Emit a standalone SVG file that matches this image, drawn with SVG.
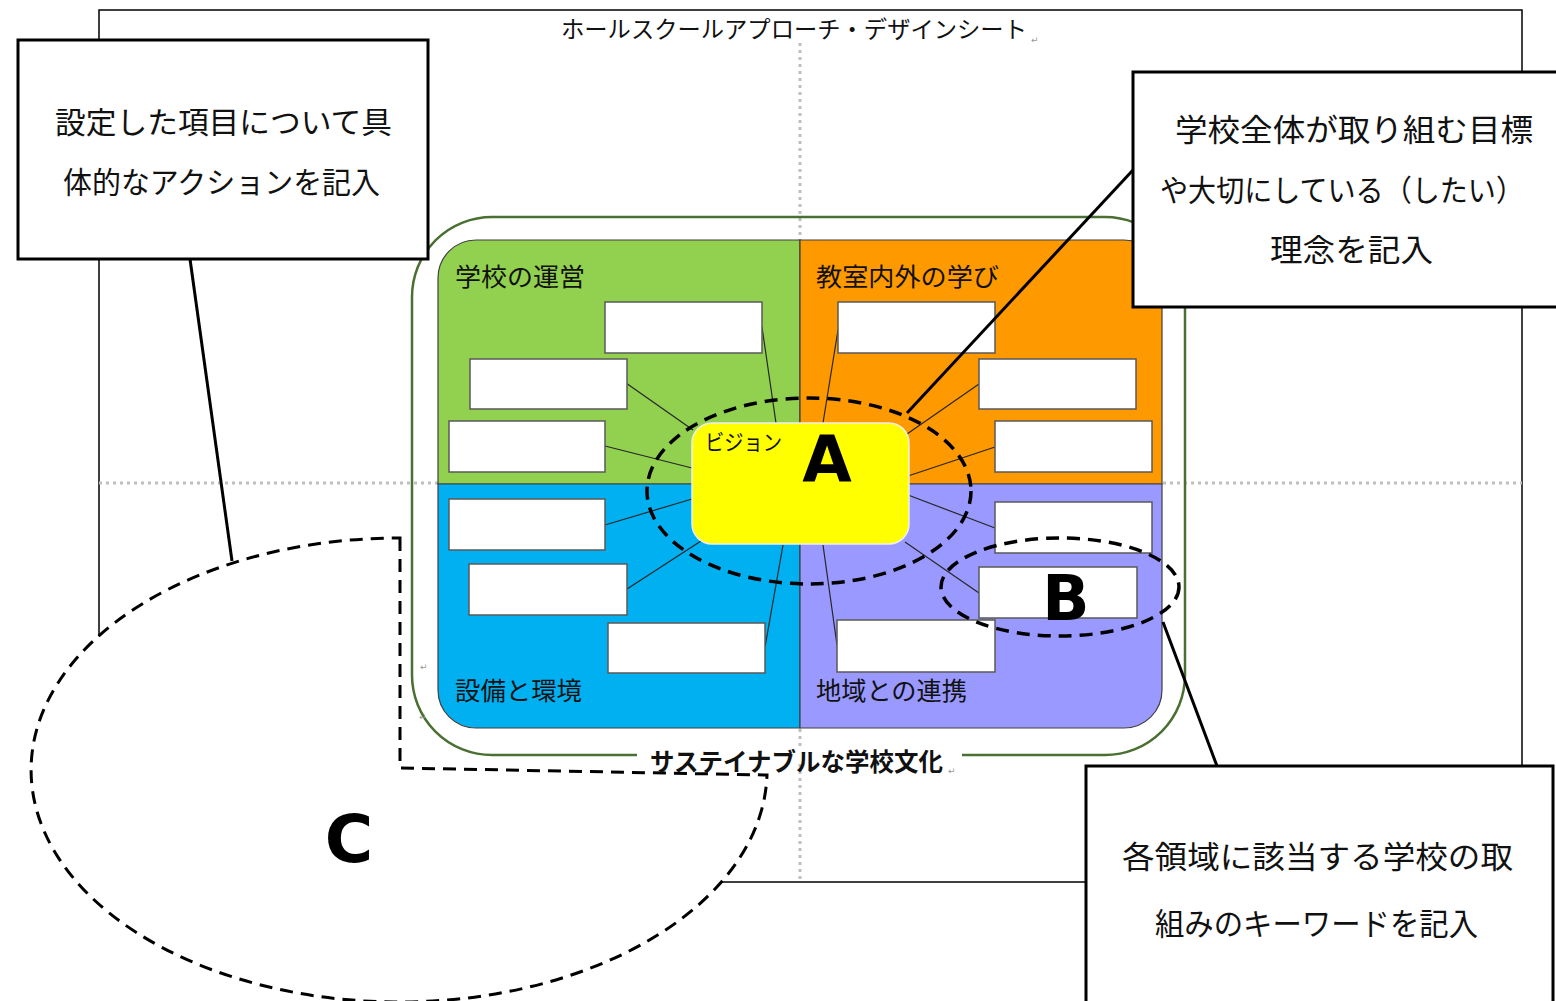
<svg xmlns="http://www.w3.org/2000/svg" width="1556" height="1001" viewBox="0 0 1556 1001">
<style>
  .jp { font-family: "Noto Sans CJK JP", "Noto Sans", sans-serif; fill: #111; }
  .big { font-family: "DejaVu Sans", "Liberation Sans", sans-serif; font-weight: bold; fill: #000; text-anchor: middle; }
  .dot { stroke: #bfbfbf; stroke-width: 3; stroke-dasharray: 3 4; fill: none; }
  .kbox { fill: #fff; stroke: #595959; stroke-width: 1.5; }
  .conn { stroke: #262626; stroke-width: 1.2; fill: none; }
  .call { fill: #fff; stroke: #000; stroke-width: 3; }
  .cline { stroke: #000; stroke-width: 3; fill: none; }
  .dash { fill: none; stroke: #000; stroke-width: 3.5; stroke-dasharray: 13 8; }
  .ret { font-family: "DejaVu Sans", sans-serif; font-size: 9px; fill: #999; }
</style>

<!-- sheet frame -->
<g id="frame">
  <rect x="99" y="10" width="1423" height="872" fill="#fff" stroke="#000" stroke-width="1.5"/>
  <text class="jp" x="561" y="38" font-size="23.3">ホールスクールアプローチ・デザインシート</text>
  <text class="ret" x="1031" y="43">↵</text>
  <line class="dot" x1="800" y1="43" x2="800" y2="880"/>
  <line class="dot" x1="99" y1="483" x2="1522" y2="483"/>
</g>

<!-- sustainable school culture outline -->
<g id="culture">
  <rect x="412" y="217" width="773" height="538" rx="80" ry="80" fill="none" stroke="#4a7031" stroke-width="2.5"/>
  <rect x="637" y="748" width="325" height="12" fill="#fff"/>
  <text class="ret" x="420" y="670">↵</text>
  <text class="ret" x="419" y="720" font-size="7">↵</text>
</g>

<!-- quadrants -->
<g id="q-management">
  <path d="M438,484 V278 A38,38 0 0 1 476,240 H800 V484 Z" fill="#92d050" stroke="#404040" stroke-width="1.2"/>
  <text class="jp" x="455" y="286" font-size="25" textLength="130" lengthAdjust="spacingAndGlyphs">学校の運営</text>
</g>
<g id="q-learning">
  <path d="M800,240 H1124 A38,38 0 0 1 1162,278 V484 H800 Z" fill="#ff9900" stroke="#404040" stroke-width="1.2"/>
  <text class="jp" x="816" y="286" font-size="25" textLength="183" lengthAdjust="spacingAndGlyphs">教室内外の学び</text>
</g>
<g id="q-environment">
  <path d="M438,484 H800 V728 H476 A38,38 0 0 1 438,690 Z" fill="#00b0f0" stroke="#404040" stroke-width="1.2"/>
  <text class="jp" x="455" y="700" font-size="25" textLength="127" lengthAdjust="spacingAndGlyphs">設備と環境</text>
</g>
<g id="q-community">
  <path d="M800,484 H1162 V690 A38,38 0 0 1 1124,728 H800 Z" fill="#9999ff" stroke="#404040" stroke-width="1.2"/>
  <text class="jp" x="816" y="700" font-size="25" textLength="151" lengthAdjust="spacingAndGlyphs">地域との連携</text>
</g>

<!-- connectors -->
<g id="connectors">
  <line class="conn" x1="762" y1="327" x2="776" y2="423"/>
  <line class="conn" x1="626" y1="383" x2="693" y2="430"/>
  <line class="conn" x1="605" y1="446" x2="692" y2="468"/>
  <line class="conn" x1="838" y1="330" x2="823" y2="423"/>
  <line class="conn" x1="979" y1="384" x2="907" y2="434"/>
  <line class="conn" x1="995" y1="447" x2="908" y2="476"/>
  <line class="conn" x1="605" y1="525" x2="692" y2="499"/>
  <line class="conn" x1="627" y1="589" x2="701" y2="541"/>
  <line class="conn" x1="765" y1="647" x2="783" y2="545"/>
  <line class="conn" x1="995" y1="528" x2="908" y2="495"/>
  <line class="conn" x1="979" y1="593" x2="905" y2="542"/>
  <line class="conn" x1="837" y1="645" x2="823" y2="545"/>
</g>

<!-- keyword boxes -->
<g id="kw-tl1"><rect class="kbox" x="605" y="302" width="157" height="51"/></g>
<g id="kw-tl2"><rect class="kbox" x="470" y="359" width="157" height="50"/></g>
<g id="kw-tl3"><rect class="kbox" x="449" y="421" width="156" height="51"/></g>
<g id="kw-tr1"><rect class="kbox" x="838" y="302" width="157" height="51"/></g>
<g id="kw-tr2"><rect class="kbox" x="979" y="359" width="157" height="50"/></g>
<g id="kw-tr3"><rect class="kbox" x="995" y="421" width="157" height="51"/></g>
<g id="kw-bl1"><rect class="kbox" x="449" y="499" width="156" height="51"/></g>
<g id="kw-bl2"><rect class="kbox" x="469" y="564" width="158" height="51"/></g>
<g id="kw-bl3"><rect class="kbox" x="608" y="623" width="157" height="50"/></g>
<g id="kw-br1"><rect class="kbox" x="995" y="502" width="157" height="51"/></g>
<g id="kw-br2"><rect class="kbox" x="979" y="567" width="158" height="51"/></g>
<g id="kw-br3"><rect class="kbox" x="837" y="620" width="158" height="52"/></g>

<!-- vision -->
<g id="vision">
  <rect x="692" y="423" width="217" height="121" rx="20" ry="20" fill="#ffff00" stroke="#eeeeee" stroke-width="1.5"/>
  <text class="jp" x="705" y="450" font-size="22" textLength="77" lengthAdjust="spacingAndGlyphs">ビジョン</text>
  <text class="big" x="827" y="482" font-size="64">A</text>
</g>

<!-- ellipse A -->
<g id="area-a">
  <ellipse class="dash" cx="809" cy="491" rx="162" ry="93"/>
</g>

<!-- ellipse B -->
<g id="area-b">
  <ellipse class="dash" cx="1060" cy="587" rx="119" ry="49" stroke-width="3"/>
  <text class="big" x="1066" y="620" font-size="62">B</text>
</g>

<!-- area C -->
<g id="area-c">
  <path d="M400,538 L400,768 L767,775 A368,232 0 1 1 400,538 Z" fill="#fff" stroke="#000" stroke-width="3" stroke-dasharray="13 8"/>
  <text class="big" x="349" y="862" font-size="66">C</text>
</g>

<!-- culture label -->
<g id="culture-label">
  <text class="jp" x="650" y="771" font-size="25" font-weight="bold" textLength="293" lengthAdjust="spacingAndGlyphs">サステイナブルな学校文化</text>
  <text class="ret" x="948" y="774">↵</text>
</g>

<!-- callouts -->
<g id="callout-lines">
  <line class="cline" x1="190" y1="259" x2="232" y2="561"/>
  <line class="cline" x1="1133" y1="170" x2="907" y2="413"/>
  <line class="cline" x1="1163" y1="622" x2="1217" y2="766"/>
</g>

<g id="callout-c">
  <rect class="call" x="18" y="40" width="410" height="219"/>
  <text class="jp" x="55" y="133" font-size="30" textLength="337" lengthAdjust="spacingAndGlyphs">設定した項目について具</text>
  <text class="jp" x="63" y="193" font-size="30" textLength="317" lengthAdjust="spacingAndGlyphs">体的なアクションを記入</text>
</g>

<g id="callout-a">
  <rect class="call" x="1133" y="72" width="425" height="235"/>
  <text class="jp" x="1175" y="141" font-size="31" textLength="358" lengthAdjust="spacingAndGlyphs">学校全体が取り組む目標</text>
  <text class="jp" x="1160" y="201" font-size="30" textLength="364" lengthAdjust="spacingAndGlyphs">や大切にしている（したい）</text>
  <text class="jp" x="1270" y="261" font-size="31" textLength="163" lengthAdjust="spacingAndGlyphs">理念を記入</text>
</g>

<g id="callout-b">
  <rect class="call" x="1086" y="766" width="467" height="240"/>
  <text class="jp" x="1122" y="868" font-size="31" textLength="391" lengthAdjust="spacingAndGlyphs">各領域に該当する学校の取</text>
  <text class="jp" x="1155" y="935" font-size="31" textLength="323" lengthAdjust="spacingAndGlyphs">組みのキーワードを記入</text>
</g>
</svg>
